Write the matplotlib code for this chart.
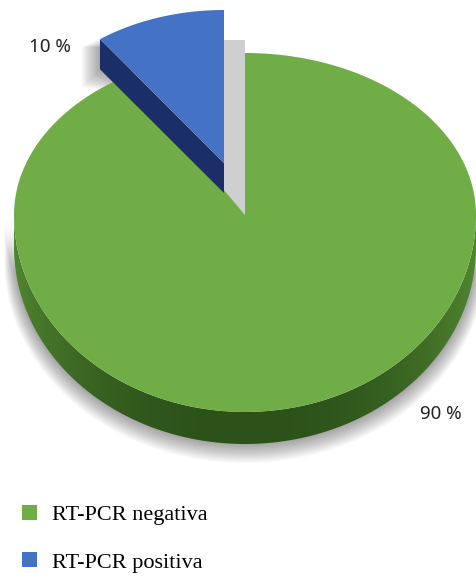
import matplotlib
matplotlib.use("Agg")
import matplotlib.pyplot as plt
from matplotlib.patches import Patch, Polygon
import numpy as np

# data
categories = ['RT-PCR negativa', 'RT-PCR positiva']
values = [90, 10]
labels = ['90 %', '10 %']

green = '#70ad47'
blue = '#4472c4'
dark_blue = '#1b2f66'
grey = '#cfcfcf'

# geometry of the tilted pie, in pixels
cx, cy = 245, 215
rx, ry_up, ry_down = 231, 162, 197
depth = 32
# exploded slice has its own centre and radii
bx, by = 224, 163
brx, bry = 211, 153
bdepth = 30
overlap = 1.5  # green runs on under the blue wall so no gap shows


def arc(start, stop, x0, y0, a, b_up, b_down=None, n=200):
    # angles are in percent of the pie, clockwise from 12 o'clock
    if b_down is None:
        b_down = b_up
    t = np.linspace(start, stop, n) / 100 * 2 * np.pi
    c = np.cos(t)
    return x0 + a * np.sin(t), y0 - c * np.where(c > 0, b_up, b_down)


fig = plt.figure(figsize=(4.76, 5.76), dpi=100)
ax = fig.add_axes([0, 0, 1, 1])

# soft shadow under the pie
for g in np.linspace(16, 1, 16):
    x, y = arc(25, 75, cx, cy, rx + g * 0.6, ry_down)
    sx, sy = arc(75, 25, cx, cy + depth + g * 0.9, rx + g * 0.6, ry_down + g * 0.3)
    ax.add_patch(Polygon(np.c_[np.r_[x, sx], np.r_[y, sy]], fc='black', ec='none', alpha=0.022))

# soft shadow of the exploded slice on the page
xo, yo = arc(values[0], values[0], bx, by, brx, bry, n=1)
for g in np.linspace(18, 1, 12):
    ax.add_patch(Polygon([(xo[0] - g, yo[0] + 8), (xo[0] + 20, yo[0] + 8 - g),
                          (xo[0] + 40, yo[0] + bdepth + 25), (xo[0] - g, yo[0] + bdepth + g)],
                         fc='black', ec='none', alpha=0.03))

# side wall of the green slice, dark in the middle
x1, y1 = arc(25, 75, cx, cy, rx, ry_up, ry_down)
x2, y2 = arc(75, 25, cx, cy + depth, rx, ry_up, ry_down)
wall = Polygon(np.c_[np.r_[x1, x2], np.r_[y1, y2]], fc='none', ec='none')
ax.add_patch(wall)
shade = np.abs(np.linspace(-1, 1, 256)) ** 2.5
ramp = np.zeros((1, 256, 3))
for i, (lo, hi) in enumerate([(0x2c, 0x50), (0x52, 0x84), (0x1a, 0x30)]):
    ramp[0, :, i] = (lo + (hi - lo) * shade) / 255
im = ax.imshow(ramp, extent=(cx - rx, cx + rx, cy + ry_down + depth, cy), aspect='auto', zorder=2)
im.set_clip_path(wall)

# grey inner wall left by the slice
ax.add_patch(Polygon([(bx, 40), (cx, 40), (cx, cy), (bx, by + bdepth)], fc=grey, ec='none', zorder=2))

# green top
x, y = arc(0, values[0] + overlap, cx, cy, rx, ry_up, ry_down, n=500)
ax.add_patch(Polygon(np.c_[np.r_[cx, x], np.r_[cy, y]], fc=green, ec='none', zorder=3))

# blue slice: outer side wall, then top
ax.add_patch(Polygon([(xo[0], yo[0]), (bx, by), (bx, by + bdepth), (xo[0], yo[0] + bdepth)],
                     fc=dark_blue, ec='none', zorder=4))
x, y = arc(values[0], 100, bx, by, brx, bry)
ax.add_patch(Polygon(np.c_[np.r_[bx, x], np.r_[by, y]], fc=blue, ec='none', zorder=5))

# data labels
ax.text(441, 414, labels[0], family='Noto Sans', fontsize=13.5, color='#222222',
        ha='center', va='center', zorder=6)
ax.text(50, 47, labels[1], family='Noto Sans', fontsize=13.5, color='#222222',
        ha='center', va='center', zorder=6)

handles = [Patch(fc=green, ec='none'), Patch(fc=blue, ec='none')]
ax.legend(handles, categories, loc='upper left', bbox_to_anchor=(22 / 476, 1 - 505 / 576),
          frameon=False, borderpad=0, borderaxespad=0, handlelength=0.68, handleheight=0.68,
          handletextpad=0.65, labelspacing=1.2,
          prop={'family': 'Liberation Serif', 'size': 16})

ax.set_xlim(0, 476)
ax.set_ylim(576, 0)
ax.axis('off')
fig.savefig('out.png', dpi=100)
